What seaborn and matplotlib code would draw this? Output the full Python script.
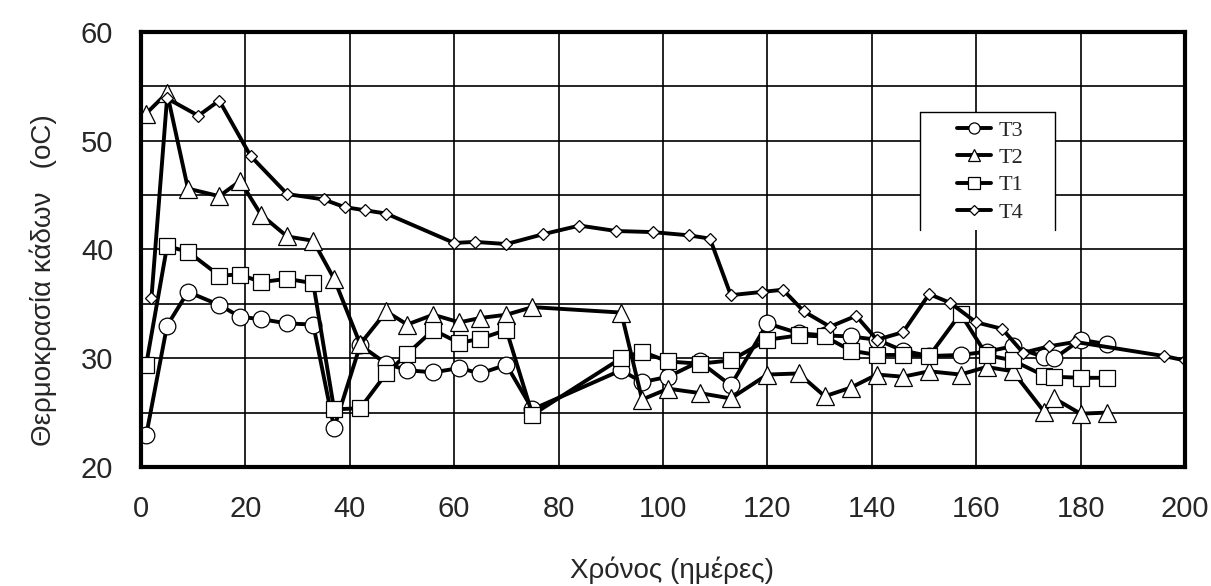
import matplotlib
matplotlib.use("Agg")
import matplotlib.pyplot as plt
import seaborn as sns
import pandas as pd
from matplotlib.patches import Rectangle
from matplotlib.lines import Line2D

days = [1, 5, 9, 15, 19, 23, 28, 33, 37, 42, 47, 51, 56, 61, 65, 70, 75, 92, 96, 101,
        107, 113, 120, 126, 131, 136, 141, 146, 151, 157, 162, 167, 173, 175, 180, 185]
t3 = [22.9, 33.0, 36.1, 34.9, 33.8, 33.6, 33.2, 33.1, 23.6, 31.2, 29.5, 28.9, 28.7, 29.1,
      28.6, 29.4, 25.3, 28.9, 27.8, 28.3, 29.7, 27.5, 33.2, 32.3, 32.1, 32.0, 31.7, 30.7,
      30.2, 30.3, 30.6, 31.1, 30.1, 30.0, 31.7, 31.3]
t2 = [52.5, 54.4, 45.6, 44.9, 46.3, 43.2, 41.2, 40.8, 37.3, 31.3, 34.3, 33.1, 34.0, 33.3,
      33.7, 34.0, 34.7, 34.2, 26.2, 27.2, 26.8, 26.3, 28.5, 28.6, 26.5, 27.3, 28.5, 28.3,
      28.8, 28.5, 29.2, 28.8, 25.1, 26.3, 24.9, 25.0]
t1 = [29.4, 40.3, 39.8, 37.6, 37.7, 37.0, 37.3, 36.9, 25.3, 25.4, 28.6, 30.4, 32.6, 31.4,
      31.8, 32.6, 24.8, 30.0, 30.6, 29.7, 29.5, 29.8, 31.7, 32.1, 32.0, 30.7, 30.3, 30.3,
      30.2, 34.1, 30.3, 29.8, 28.4, 28.3, 28.2, 28.2]
t4_days = [2, 5, 11, 15, 21, 28, 35, 39, 43, 47, 60, 64, 70, 77, 84, 91, 98, 105, 109, 113,
           119, 123, 127, 132, 137, 141, 146, 151, 155, 160, 165, 169, 174, 179, 196, 200]
t4 = [35.5, 53.9, 52.3, 53.7, 48.6, 45.1, 44.6, 43.9, 43.6, 43.3, 40.6, 40.7, 40.5, 41.4,
      42.2, 41.7, 41.6, 41.3, 41.0, 35.8, 36.1, 36.3, 34.3, 32.9, 33.9, 31.7, 32.4, 35.9,
      35.1, 33.3, 32.7, 30.5, 31.1, 31.5, 30.2, 29.8]

sns.set_theme(style="white")
plt.rcParams['font.family'] = ['Liberation Sans', 'DejaVu Sans']

fig = plt.figure(figsize=(12.11, 5.86), dpi=100)
ax = fig.add_axes([0.1164, 0.2031, 0.8621, 0.7423])

series = [
    ("T3", days, t3, "o", 12, 8),
    ("T2", days, t2, "^", 13, 9),
    ("T1", days, t1, "s", 12, 8),
    ("T4", t4_days, t4, "D", 6.5, 5),
]
leg_ms = {}
for name, xs, ys, mk, ms, lms in series:
    df = pd.DataFrame({"x": xs, "y": ys})
    sns.lineplot(data=df, x="x", y="y", ax=ax, color="black", linewidth=2.8,
                 marker=mk, markersize=ms, markerfacecolor="white",
                 markeredgecolor="black", markeredgewidth=0.9, label=name,
                 estimator=None, sort=False)
    leg_ms[name] = lms

ax.set_xlim(0, 200)
ax.set_ylim(20, 60)
ax.set_xticks(range(0, 201, 20))
ax.set_yticks(range(20, 61, 10))
ax.set_yticks(range(25, 60, 10), minor=True)
ax.grid(True, which="major", axis="both", color="black", linewidth=1.2)
ax.grid(True, which="minor", axis="y", color="black", linewidth=1.2)
ax.set_axisbelow(True)
for s in ax.spines.values():
    s.set_color("black")
    s.set_linewidth(3)
ax.tick_params(axis="both", which="major", labelsize=21, direction="in", length=6,
               width=2, color="black")
ax.tick_params(axis="x", which="major", pad=20)
ax.tick_params(axis="y", which="major", pad=20)
ax.tick_params(axis="y", which="minor", length=0)
ax.set_xlabel("Χρόνος (ημέρες)", fontsize=20)
ax.set_ylabel("Θερμοκρασία κάδων   (oC)", fontsize=20)
ax.xaxis.set_label_coords(0.509, -0.205)
ax.yaxis.set_label_coords(-0.08, 0.43)

# legend background box (top, left and right borders only)
x0, x1, yb, yt = 0.746, 0.8755, 0.545, 0.816
ax.add_patch(Rectangle((x0, yb), x1 - x0, yt - yb, transform=ax.transAxes,
                       facecolor="white", edgecolor="none", zorder=5))
for xs_, ys_ in [([x0, x1], [yt, yt]), ([x0, x0], [yb, yt]), ([x1, x1], [yb, yt])]:
    ax.add_line(Line2D(xs_, ys_, transform=ax.transAxes, color="black",
                       linewidth=1.0, zorder=6))

leg = ax.legend(loc="upper left", bbox_to_anchor=(0.7816, 0.797), frameon=False,
                prop={"family": "Liberation Serif", "size": 16}, handlelength=1.55,
                handletextpad=0.3, labelspacing=0.3, borderpad=0, borderaxespad=0)
leg.set_zorder(7)
for line, txt in zip(leg.get_lines(), leg.get_texts()):
    line.set_markersize(leg_ms[txt.get_text()])
    line.set_linewidth(2.8)

fig.savefig("out.png", dpi=100)
